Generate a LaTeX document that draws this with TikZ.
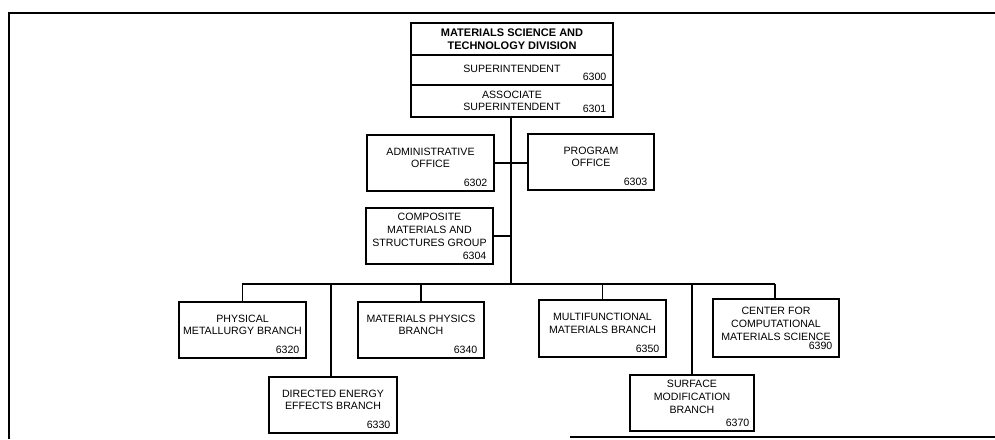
\documentclass[tikz,border=0pt]{standalone}
\usepackage{fontspec}
\setmainfont{Liberation Sans}
\newcommand\bxtext[1]{\raisebox{4pt}[\height][\depth]{\begin{tabular}{@{}c@{}}#1\end{tabular}}}
\begin{document}
\begin{tikzpicture}[x=1pt,y=-1pt,
  orgbox/.style={draw, line width=1.1pt, inner sep=0pt, font=\fontsize{10.6}{12.6}\selectfont},
  numtxt/.style={anchor=base east, inner sep=0pt, xshift=-7pt, yshift=5pt, font=\fontsize{10.6}{12.6}\selectfont},
  link/.style={line width=1.1pt},
  frameline/.style={line width=1.8pt}]
\useasboundingbox (0,0) rectangle (995,439);
% frame
\coordinate (fTL) at (9,13);
\coordinate (fTR) at (995,13);
\coordinate (fBL) at (9,439);
\coordinate (fB1) at (570,437);
\coordinate (fB2) at (995,437);
\draw[frameline] (fBL) -- (fTL) -- (fTR);
\draw[frameline] (fB1) -- (fB2);
% top box
\node[orgbox, minimum width=202pt, minimum height=32pt, font=\fontsize{11}{13.4}\selectfont\bfseries, align=center] (div) at (512,39) {MATERIALS SCIENCE AND\\TECHNOLOGY DIVISION};
\node[orgbox, minimum width=202pt, minimum height=30pt] (sup) at (512,70) {\raisebox{2pt}{SUPERINTENDENT}};
\node[orgbox, minimum width=202pt, minimum height=32pt] (asup) at (512,101) {\raisebox{-1pt}[\height][\depth]{\begin{tabular}{@{}c@{}}ASSOCIATE\\SUPERINTENDENT\end{tabular}}};
\node[numtxt] at (sup.south east) {6300};
\node[numtxt] at (asup.south east) {6301};
% staff boxes
\node[orgbox, minimum width=127pt, minimum height=56pt] (adm) at (430.5,163) {\bxtext{ADMINISTRATIVE\\OFFICE}};
\node[numtxt] at (adm.south east) {6302};
\node[orgbox, minimum width=126pt, minimum height=56pt] (prog) at (591,162) {\bxtext{PROGRAM\\OFFICE}};
\node[numtxt] at (prog.south east) {6303};
\node[orgbox, minimum width=127pt, minimum height=56pt] (comp) at (429.5,236) {\raisebox{5pt}[\height][\depth]{\begin{tabular}{@{}c@{}}COMPOSITE\\MATERIALS AND\\STRUCTURES GROUP\end{tabular}}};
\node[numtxt] at (comp.south east) {6304};
% branches
\node[orgbox, minimum width=127pt, minimum height=56pt] (phys) at (242.5,330) {\bxtext{PHYSICAL\\METALLURGY BRANCH}};
\node[numtxt] at (phys.south east) {6320};
\node[orgbox, minimum width=128pt, minimum height=56pt] (dir) at (333,405) {\bxtext{DIRECTED ENERGY\\EFFECTS BRANCH}};
\node[numtxt] at (dir.south east) {6330};
\node[orgbox, minimum width=126pt, minimum height=56pt] (mphys) at (421,330) {\bxtext{MATERIALS PHYSICS\\BRANCH}};
\node[numtxt] at (mphys.south east) {6340};
\node[orgbox, minimum width=127pt, minimum height=57pt] (multi) at (602.5,328.5) {\bxtext{MULTIFUNCTIONAL\\MATERIALS BRANCH}};
\node[numtxt] at (multi.south east) {6350};
\node[orgbox, minimum width=124pt, minimum height=56pt] (surf) at (692,403) {\raisebox{5pt}[\height][\depth]{\begin{tabular}{@{}c@{}}SURFACE\\MODIFICATION\\BRANCH\end{tabular}}};
\node[numtxt, xshift=2pt] at (surf.south east) {6370};
\node[orgbox, minimum width=126pt, minimum height=58pt] (cent) at (776,328) {\raisebox{3pt}[\height][\depth]{\begin{tabular}{@{}c@{}}CENTER FOR\\COMPUTATIONAL\\MATERIALS SCIENCE\end{tabular}}};
\node[numtxt, yshift=3pt] at (cent.south east) {6390};
% connectors
\coordinate (busL) at (242,284);
\coordinate (busR) at (775,284);
\coordinate (busM) at (511,284);
\draw[link] (asup.south -| busM) -- (busM);
\draw[link] (adm.east) -- (adm.east -| prog.west);
\draw[link] (comp.east) -- (comp.east -| busM);
\draw[link] (busL) -- (busR);
\draw[link] (phys.north) -- (phys.north |- busL);
\draw[link] (dir.north -| 331,0) -- (331,284);
\draw[link] (mphys.north) -- (mphys.north |- busL);
\draw[link] (multi.north) -- (multi.north |- busL);
\draw[link] (surf.north) -- (surf.north |- busL);
\draw[link] (cent.north -| busR) -- (busR);
\end{tikzpicture}
\end{document}
